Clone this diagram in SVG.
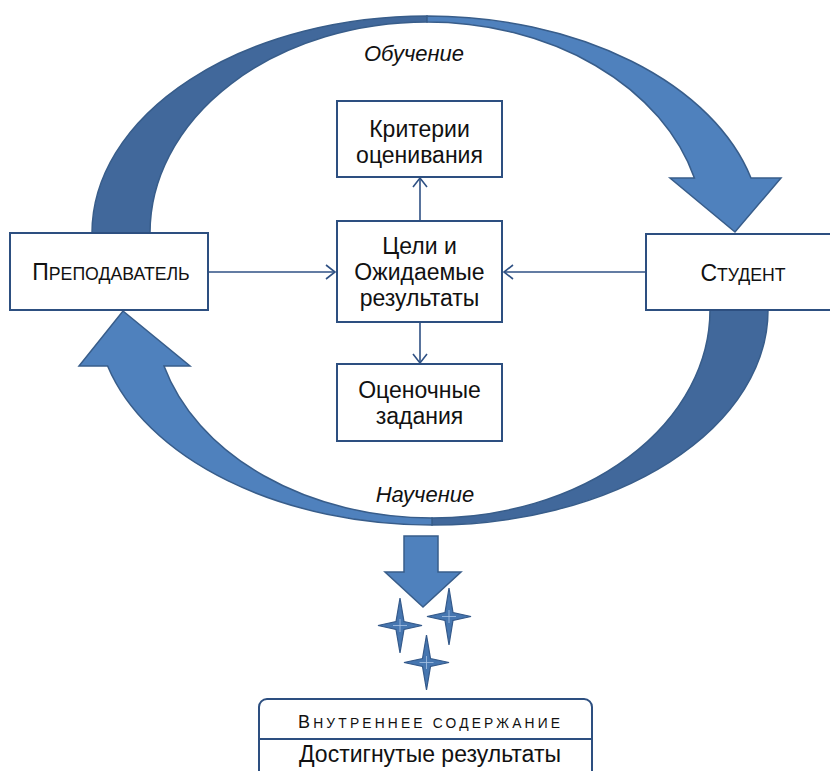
<svg xmlns="http://www.w3.org/2000/svg" width="830" height="771" viewBox="0 0 830 771">
<defs>
<style>
.box{fill:#fff;stroke:#2d4f80;stroke-width:2}
.t{font-family:"Liberation Sans",Arial,sans-serif;font-size:23px;fill:#111;text-anchor:middle}
.it{font-family:"Liberation Sans",Arial,sans-serif;font-size:22px;font-style:italic;fill:#111;text-anchor:middle}
.sc{text-transform:uppercase}
.dark{fill:#41689b;stroke:#385d8a;stroke-width:1.5}
.light{fill:#4f81bd;stroke:#385d8a;stroke-width:1.5}
.star{fill:#4676b0;stroke:#34598a;stroke-width:1.2}
.hl{stroke:#a9c4e6;stroke-width:0.8}
.con{fill:none;stroke:#2f5184;stroke-width:1.6}
</style>
<marker id="oa" markerWidth="12" markerHeight="16" refX="10" refY="8" orient="auto" markerUnits="userSpaceOnUse">
<path d="M1,1 L10,8 L1,15" fill="none" stroke="#2f5184" stroke-width="1.6"/>
</marker>
</defs>
<rect width="830" height="771" fill="#fff"/>

<g id="cycle-arrows">
<path class="dark" d="M92 233 A335 217 0 0 1 427 16 L427 22 A277 211 0 0 0 150 233 Z"/>
<path class="light" d="M427 16 A335 217 0 0 1 751 178 L781 178 L735 232 L670 178 L694.4 178 A277 211 0 0 0 427 22 Z"/>
<path class="dark" d="M768 310 A336 215 0 0 1 432 525 L432 518 A278 208 0 0 0 710 310 Z"/>
<path class="light" d="M432 525 A336 215 0 0 1 107.6 366 L79 366 L123 311 L190 366 L164 366 A278 208 0 0 0 432 518 Z"/>
</g>

<g id="label-obuchenie"><text class="it" x="414" y="61">Обучение</text></g>
<g id="label-nauchenie"><text class="it" x="425" y="502">Научение</text></g>

<g id="connectors">
<line class="con" x1="208" y1="272" x2="335" y2="272" marker-end="url(#oa)"/>
<line class="con" x1="646" y1="272" x2="504" y2="272" marker-end="url(#oa)"/>
<line class="con" x1="420" y1="220" x2="420" y2="178" marker-end="url(#oa)"/>
<line class="con" x1="420" y1="322" x2="420" y2="363" marker-end="url(#oa)"/>
</g>

<g id="teacher">
<rect class="box" x="10" y="233" width="198" height="77"/>
<text class="t" x="111" y="280"><tspan>П</tspan><tspan class="sc" font-size="17.7">реподаватель</tspan></text>
</g>

<g id="student">
<rect class="box" x="646" y="234" width="186" height="76"/>
<text class="t" x="743" y="281"><tspan>С</tspan><tspan class="sc" font-size="17.7">тудент</tspan></text>
</g>

<g id="criteria">
<rect class="box" x="337" y="101" width="165" height="76"/>
<text class="t" x="419.5" y="137">Критерии</text>
<text class="t" x="419.5" y="163">оценивания</text>
</g>

<g id="goals">
<rect class="box" x="337" y="221" width="165" height="101"/>
<text class="t" x="419.5" y="254">Цели и</text>
<text class="t" x="419.5" y="280">Ожидаемые</text>
<text class="t" x="419.5" y="306">результаты</text>
</g>

<g id="tasks">
<rect class="box" x="337" y="364" width="165" height="77"/>
<text class="t" x="419.5" y="398">Оценочные</text>
<text class="t" x="419.5" y="424">задания</text>
</g>

<g id="down-arrow">
<path class="light" d="M404 536 L438 536 L438 572 L461 572 L423 607 L385 572 L404 572 Z"/>
</g>

<g id="sparkles">
<path class="star" d="M400 598 L404 621.5 L422 625.5 L404 629.5 L400 653 L396 629.5 L378 625.5 L396 621.5 Z"/>
<path class="hl" d="M400 619 V632 M393 625.5 H407"/>
<path class="star" d="M449 588 L453 612.5 L471 616.5 L453 620.5 L449 645 L445 620.5 L427 616.5 L445 612.5 Z"/>
<path class="hl" d="M449 610 V623 M442 616.5 H456"/>
<path class="star" d="M426.5 635 L430.5 658.5 L449 662.5 L430.5 666.5 L426.5 690 L422.5 666.5 L404 662.5 L422.5 658.5 Z"/>
<path class="hl" d="M426.5 656 V669 M419.5 662.5 H433.5"/>
</g>

<g id="results">
<rect class="box" x="259" y="699" width="333" height="90" rx="8"/>
<line x1="259" y1="739" x2="592" y2="739" stroke="#2d4f80" stroke-width="2"/>
<text class="t" x="429" y="728" textLength="262" lengthAdjust="spacing"><tspan font-size="18">В</tspan><tspan class="sc" font-size="13.8">нутреннее содержание</tspan></text>
<text class="t" x="430" y="762">Достигнутые результаты</text>
</g>
</svg>
